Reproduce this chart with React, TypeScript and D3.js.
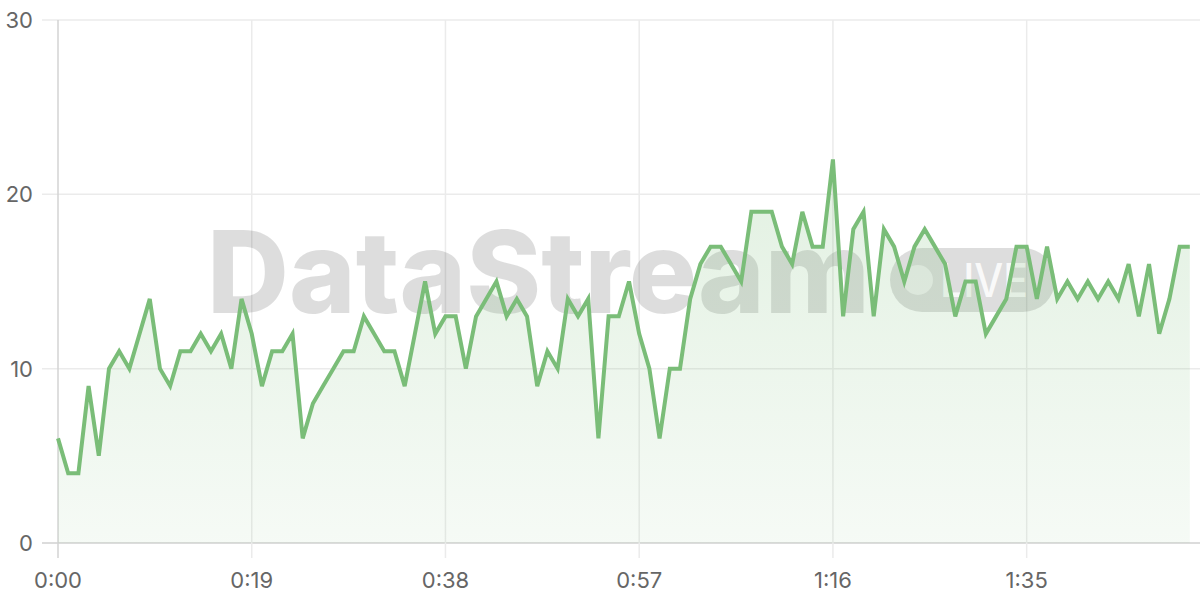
import React from 'react';
import * as d3 from 'd3';

// one reading per second, 0:00 .. 1:51
const values: number[] = [
  6, 4, 4, 9, 5, 10, 11, 10, 12, 14,
  10, 9, 11, 11, 12, 11, 12, 10, 14, 12,
  9, 11, 11, 12, 6, 8, 9, 10, 11, 11,
  13, 12, 11, 11, 9, 12, 15, 12, 13, 13,
  10, 13, 14, 15, 13, 14, 13, 9, 11, 10,
  14, 13, 14, 6, 13, 13, 15, 12, 10, 6,
  10, 10, 14, 16, 17, 17, 16, 15, 19, 19,
  19, 17, 16, 19, 17, 17, 22, 13, 18, 19,
  13, 18, 17, 15, 17, 18, 17, 16, 13, 15,
  15, 12, 13, 14, 17, 17, 14, 17, 14, 15,
  14, 15, 14, 15, 14, 16, 13, 16, 12, 14,
  17, 17,
];
const seconds: number[] = values.map((_, i) => i);
const xTicks: number[] = [0, 19, 38, 57, 76, 95];
const yTicks: number[] = [0, 10, 20, 30];

const W = 1200;
const H = 600;
const margin = { top: 20, right: 0, bottom: 57, left: 58 };

const fmt = (s: number) => `${Math.floor(s / 60)}:${String(s % 60).padStart(2, '0')}`;

const App: React.FC = () => {
  const x = d3.scaleLinear().domain([0, 112]).range([margin.left, W - margin.right]);
  const y = d3.scaleLinear().domain([0, 30]).range([H - margin.bottom, margin.top]);

  const line = d3.line<number>()
    .x((_, i) => x(seconds[i]))
    .y((d) => y(d));
  const area = d3.area<number>()
    .x((_, i) => x(seconds[i]))
    .y0(y(0))
    .y1((d) => y(d));

  const font = 'Inter, "Liberation Sans", Arial, sans-serif';

  return (
    <div style={{ position: 'fixed', left: 0, top: 0, width: W, height: H, background: '#fff' }}>
      <svg width={W} height={H} style={{ display: 'block' }}>
        <defs>
          <linearGradient id="fillGrad" x1="0" y1={y(22)} x2="0" y2={y(0)} gradientUnits="userSpaceOnUse">
            <stop offset="0" stopColor="#7abd78" stopOpacity={0.22} />
            <stop offset="1" stopColor="#7abd78" stopOpacity={0.07} />
          </linearGradient>
        </defs>

        {/* grid */}
        {yTicks.map((t) => (
          <line key={`gy${t}`} x1={margin.left - 16} x2={W} y1={y(t)} y2={y(t)}
            stroke={t === 0 ? '#d0d0d0' : '#ebebeb'} strokeWidth={1.5} />
        ))}
        {xTicks.map((t) => (
          <line key={`gx${t}`} x1={x(t)} x2={x(t)} y1={margin.top} y2={y(0) + 15}
            stroke={t === 0 ? '#d3d3d3' : '#ebebeb'} strokeWidth={1.5} />
        ))}

        {/* watermark */}
        <g fontFamily={font}>
          <text x={207} y={313} fontSize={114} fontWeight={800} fill="#000" fillOpacity={0.135}
            textLength={663} lengthAdjust="spacingAndGlyphs">DataStream</text>
          <rect x={890} y={248} width={165} height={64} rx={32} fill="#000" fillOpacity={0.135} />
          <circle cx={918} cy={280} r={15} fill="#fff" fillOpacity={0.55} />
          <text x={940} y={297} fontSize={46} fontWeight={500} fill="#fff" fillOpacity={0.85}
            textLength={88} lengthAdjust="spacingAndGlyphs">LIVE</text>
        </g>

        <path d={area(values) ?? ''} fill="url(#fillGrad)" />
        <path d={line(values) ?? ''} fill="none" stroke="#7abd78" strokeWidth={4} strokeLinejoin="miter" />

        {/* tick labels */}
        <g fontFamily={font} fontSize={22} fill="#666">
          {yTicks.map((t) => (
            <text key={`ly${t}`} x={33} y={y(t)} dy="0.36em" textAnchor="end">{t}</text>
          ))}
          {xTicks.map((t) => (
            <text key={`lx${t}`} x={x(t)} y={588} textAnchor="middle">{fmt(t)}</text>
          ))}
        </g>
      </svg>
    </div>
  );
};

export default App;
